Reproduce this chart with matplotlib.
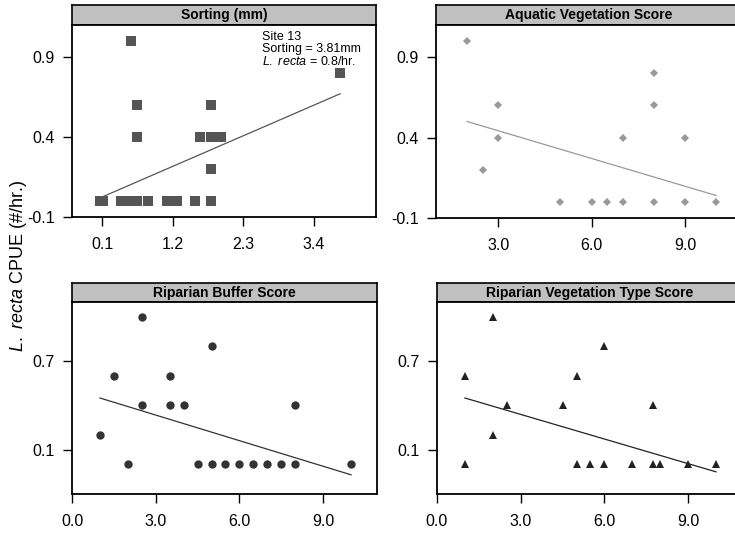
import matplotlib
matplotlib.use("Agg")
import matplotlib.pyplot as plt

plt.rcParams["font.family"] = ["Liberation Sans", "DejaVu Sans"]
plt.rcParams["mathtext.fontset"] = "custom"
plt.rcParams["mathtext.rm"] = "Liberation Sans"
plt.rcParams["mathtext.it"] = "Liberation Sans:italic"

# Sorting (mm) vs CPUE
sort_x = [0.55, 3.81, 0.65, 1.80, 0.65, 1.62, 1.80, 1.95, 1.80,
          0.07, 0.11, 0.40, 0.54, 0.62, 0.65, 0.81, 1.11, 1.26, 1.55, 1.80]
sort_y = [1.0, 0.8, 0.6, 0.6, 0.4, 0.4, 0.4, 0.4, 0.2,
          0, 0, 0, 0, 0, 0, 0, 0, 0, 0, 0]
sort_fit_x = [0.07, 3.81]
sort_fit_y = [0.02, 0.67]

# Aquatic vegetation score vs CPUE
aqua_x = [2.0, 2.5, 3.0, 3.0, 5.0, 6.0, 6.5, 7.0, 7.0, 8.0, 8.0, 8.0, 9.0, 9.0, 10.0]
aqua_y = [1.0, 0.2, 0.6, 0.4, 0, 0, 0, 0, 0.4, 0.8, 0.6, 0, 0.4, 0, 0]
aqua_fit_x = [2.0, 10.0]
aqua_fit_y = [0.50, 0.04]

# Riparian buffer score vs CPUE
buf_x = [1.0, 1.5, 2.0, 2.5, 2.5, 3.5, 3.5, 4.0, 4.5, 5.0, 5.0,
         5.5, 6.0, 6.5, 7.0, 7.5, 8.0, 8.0, 10.0]
buf_y = [0.2, 0.6, 0, 1.0, 0.4, 0.6, 0.4, 0.4, 0, 0.8, 0,
         0, 0, 0, 0, 0, 0, 0.4, 0]
buf_fit_x = [1.0, 10.0]
buf_fit_y = [0.45, -0.07]

# Riparian vegetation type score vs CPUE
veg_x = [1.0, 1.0, 2.0, 2.0, 2.5, 4.5, 5.0, 5.0, 5.5, 6.0, 6.0,
         7.0, 7.75, 7.75, 8.0, 9.0, 10.0]
veg_y = [0.6, 0, 1.0, 0.2, 0.4, 0.4, 0.6, 0, 0, 0.8, 0,
         0, 0.4, 0, 0, 0, 0]
veg_fit_x = [1.0, 10.0]
veg_fit_y = [0.45, -0.05]

top_yticks = [-0.1, 0.4, 0.9]
bottom_yticks = [0.1, 0.7]
sort_xticks = [0.1, 1.2, 2.3, 3.4]
aqua_xticks = [3.0, 6.0, 9.0]
score_xticks = [0.0, 3.0, 6.0, 9.0]

W, H = 735, 535
fig = plt.figure(figsize=(W / 100, H / 100), dpi=100)


def px_axes(x0, x1, ytop, ybot):
    return fig.add_axes([x0 / W, 1 - ybot / H, (x1 - x0) / W, (ybot - ytop) / H])


def panel(x0, x1, htop, hbot, pbot, title, xs, ys, fx, fy, marker, ms, color,
          lcolor, xlim, ylim, xticks, yticks):
    hd = px_axes(x0, x1, htop, hbot)
    hd.set_facecolor("#c0c0c0")
    hd.set_xticks([])
    hd.set_yticks([])
    for s in hd.spines.values():
        s.set_linewidth(1.2)
    hd.text(0.5, 0.48, title, ha="center", va="center", fontsize=10,
            fontweight="bold", transform=hd.transAxes)

    ax = px_axes(x0, x1, hbot, pbot)
    ax.plot(fx, fy, color=lcolor, lw=0.9, zorder=2)
    ax.plot(xs, ys, linestyle="none", marker=marker, ms=ms, color=color,
            markeredgewidth=0, zorder=3)
    ax.set_xlim(*xlim)
    ax.set_ylim(*ylim)
    ax.set_xticks(xticks)
    ax.set_xticklabels([f"{v:.1f}" for v in xticks])
    ax.set_yticks(yticks)
    ax.set_yticklabels([f"{v:.1f}" for v in yticks])
    ax.tick_params(direction="out", length=6.5, width=1, labelsize=11.5,
                   pad=6, top=False, right=False)
    ax.tick_params(axis="x", pad=8)
    for s in ax.spines.values():
        s.set_linewidth(1.3)
    return ax


panel(72, 376, 5, 25, 217, "Sorting (mm)", sort_x, sort_y,
      sort_fit_x, sort_fit_y, "s", 6.5, "#555555", "#555555",
      (-0.37, 4.37), (-0.1, 1.1), sort_xticks, top_yticks)
fig.text(262 / W, 1 - 31 / H,
         "Site 13\nSorting = 3.81mm\n$\\mathit{L.\\ recta}$ = 0.8/hr.",
         ha="left", va="top", fontsize=9, linespacing=1.0)

panel(436, 741, 5, 25, 218, "Aquatic Vegetation Score", aqua_x, aqua_y,
      aqua_fit_x, aqua_fit_y, "D", 4.5, "#999999", "#999999",
      (1.0, 10.8), (-0.1, 1.1), aqua_xticks, top_yticks)

panel(72, 377, 283, 302, 494, "Riparian Buffer Score", buf_x, buf_y,
      buf_fit_x, buf_fit_y, "o", 6, "#333333", "#333333",
      (0.0, 10.93), (-0.2, 1.1), score_xticks, bottom_yticks)

panel(437, 742, 283, 302, 494, "Riparian Vegetation Type Score", veg_x, veg_y,
      veg_fit_x, veg_fit_y, "^", 6, "#222222", "#222222",
      (0.0, 10.93), (-0.2, 1.1), score_xticks, bottom_yticks)

fig.text(19 / W, 1 - 266 / H, "$\\mathit{L.\\ recta}$ CPUE (#/hr.)",
         rotation=90, ha="center", va="center", fontsize=13)

fig.savefig("out.png", dpi=100)
